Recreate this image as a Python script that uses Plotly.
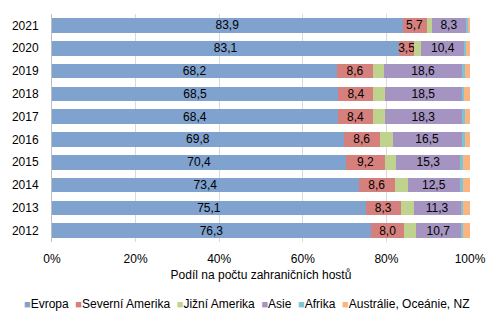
import plotly.graph_objects as go

years = ["2021", "2020", "2019", "2018", "2017", "2016", "2015", "2014", "2013", "2012"]
evropa = [83.9, 83.1, 68.2, 68.5, 68.4, 69.8, 70.4, 73.4, 75.1, 76.3]
severni_amerika = [5.7, 3.5, 8.6, 8.4, 8.4, 8.6, 9.2, 8.6, 8.3, 8.0]
jizni_amerika = [1.2, 1.7, 2.7, 2.7, 2.9, 3.1, 2.8, 3.1, 3.1, 2.8]
asie = [8.3, 10.4, 18.6, 18.5, 18.3, 16.5, 15.3, 12.5, 11.3, 10.7]
afrika = [0.4, 0.4, 0.8, 0.4, 0.7, 0.7, 0.6, 0.8, 0.6, 0.5]
australie = [0.5, 0.9, 1.1, 1.5, 1.3, 1.3, 1.6, 1.7, 1.6, 1.6]
x_ticks = [0, 20, 40, 60, 80, 100]
x_tick_labels = ["0%", "20%", "40%", "60%", "80%", "100%"]

series = [
    ("Evropa", evropa, "#7FA2CF", True),
    ("Severní Amerika", severni_amerika, "#D5807D", True),
    ("Jižní Amerika", jizni_amerika, "#BFD38F", False),
    ("Asie", asie, "#A594C1", True),
    ("Afrika", afrika, "#7DC4D8", False),
    ("Austrálie, Oceánie, NZ", australie, "#F9B480", False),
]

FONT = "Liberation Sans, Arial, sans-serif"
FS = 12

fig = go.Figure()
for name, vals, color, labels in series:
    fig.add_trace(go.Bar(
        y=years, x=vals, name=name, orientation="h",
        marker=dict(color=color, line=dict(width=0)),
        texttemplate="%{x:.1f}" if labels else None,
        textposition="inside" if labels else "none",
        insidetextanchor="middle",
        textangle=0,
        textfont=dict(color="#000000", size=FS, family=FONT),
        showlegend=False,
        hoverinfo="skip",
    ))

legend_text = " &nbsp;".join(
    f'<span style="color:{c};font-size:11px">■</span>{n}' for n, _, c, _ in series
)

fig.update_layout(
    barmode="stack",
    bargap=0.36,
    width=501, height=327,
    margin=dict(l=45, r=31, t=14, b=85),
    paper_bgcolor="white",
    plot_bgcolor="white",
    separators=", ",
    font=dict(family=FONT, size=FS, color="#000000"),
    uniformtext=dict(minsize=FS, mode="show"),
    xaxis=dict(
        range=[0, 100], tickvals=x_ticks, ticktext=x_tick_labels,
        showgrid=True, gridcolor="#D9D9D9", gridwidth=1,
        zeroline=False, showline=False, layer="above traces",
        ticks="", ticklabelstandoff=8,
        title=dict(text="Podíl na počtu zahraničních hostů", standoff=5,
                   font=dict(size=FS, family=FONT)),
        tickfont=dict(size=FS, family=FONT),
        fixedrange=True,
    ),
    yaxis=dict(
        categoryorder="array", categoryarray=years, autorange="reversed",
        showline=True, linecolor="#BFBFBF", linewidth=1,
        showgrid=False, ticks="", ticklabelstandoff=10,
        tickfont=dict(size=FS, family=FONT),
        fixedrange=True,
    ),
    annotations=[dict(
        text=legend_text, xref="paper", yref="paper", x=0.465, y=-0.27,
        xanchor="center", yanchor="middle", showarrow=False,
        font=dict(size=FS, family=FONT, color="#000000"),
    )],
)

fig.write_html("out.html")
